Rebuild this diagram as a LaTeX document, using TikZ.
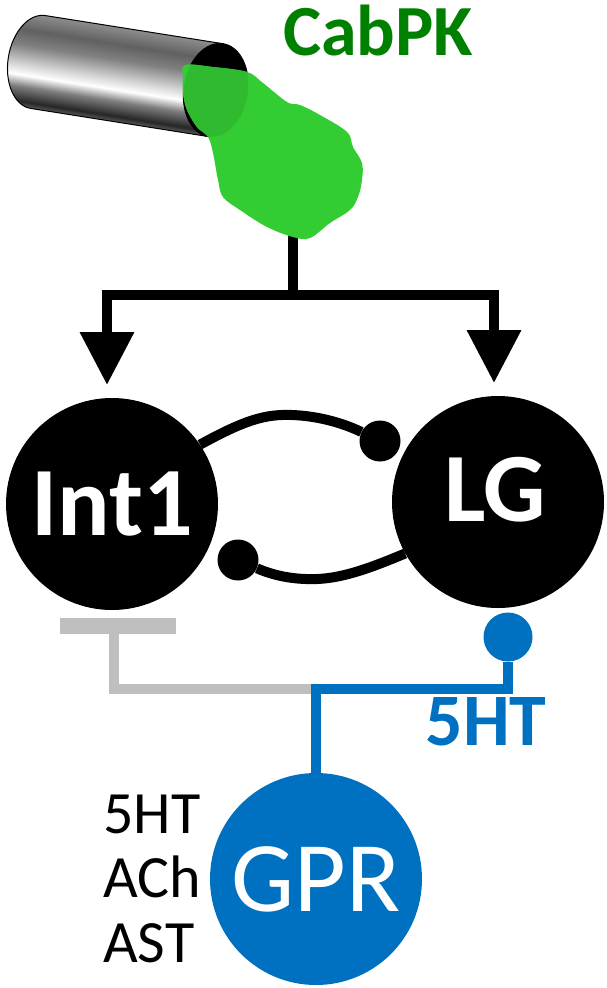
\documentclass[tikz,border=0pt]{standalone}
\usepackage{fontspec}
\setmainfont{Carlito}
\usepackage{tikz}
\usetikzlibrary{arrows.meta}

\definecolor{cabgreen}{RGB}{0,128,0}
\definecolor{blobgreen}{RGB}{51,204,51}
\definecolor{blobdark}{RGB}{47,186,47}
\definecolor{gprblue}{RGB}{0,112,192}
\definecolor{inhibgray}{RGB}{191,191,191}

% metal look of the tube, bottom edge at 25bp, top edge at 75bp
\pgfdeclareverticalshading{tubemetal}{100bp}{color(0bp)=(black!65); color(25bp)=(black!65);
  color(28bp)=(black!85); color(36bp)=(black!50); color(42bp)=(white); color(47bp)=(black!15);
  color(58bp)=(black!50); color(66bp)=(black!62); color(75bp)=(black!45); color(100bp)=(black!45)}

\begin{document}
\begin{tikzpicture}[x=1pt, y=-1pt,
    cell/.style={circle, fill=black, inner sep=0pt, minimum size=212pt, text=white,
      font=\bfseries\fontsize{98}{98}\selectfont},
    syn/.style={circle, fill=black, inner sep=0pt, minimum size=41pt},
    synline/.style={line width=10pt},
    feed/.style={line width=10pt, -{Triangle[width=52pt, length=53pt]}},
    inhib/.style={draw=inhibgray, line width=10pt},
    mod/.style={draw=gprblue, line width=10pt}]
    \useasboundingbox (0,0) rectangle (606,988);

    % tube
    \begin{scope}[transform canvas={shift={(38,62)}, rotate=-9}]
        \shade[shading=tubemetal, draw=black, line width=1pt] (0,-47) -- (180,-47) -- (180,47) -- (0,47)
            arc[start angle=90, end angle=270, x radius=30, y radius=47] -- cycle;
        \filldraw[line width=1pt] (180,0) ellipse[x radius=32, y radius=47]; % opening
    \end{scope}

    % CabPK into both cells
    \coordinate (blobfoot) at (293,232);
    \coordinate (split) at (293,295);
    \coordinate (tipL) at (107,385);
    \coordinate (tipR) at (494,383);
    \draw[feed] (blobfoot) -- (split) -| (tipL);
    \draw[feed] (blobfoot) -- (split) -| (tipR);

    \fill[blobgreen] plot[smooth cycle, tension=0.6] coordinates {(185,65) (213,67) (247,72) (263,83)
        (287,102) (300,105) (320,115) (347,132) (353,147) (362,163) (362,180) (358,197) (350,210)
        (330,223) (310,238) (293,237) (267,227) (240,210) (223,197) (218,180) (213,153) (208,137)
        (197,127) (187,110) (183,93) (183,77)};
    \begin{scope}
        \clip[shift={(38,62)}, rotate=-9] (180,0) ellipse[x radius=32, y radius=47];
        \fill[blobdark] plot[smooth cycle, tension=0.6] coordinates {(185,65) (213,67) (247,72) (263,83)
            (287,102) (300,105) (320,115) (347,132) (353,147) (362,163) (362,180) (358,197) (350,210)
            (330,223) (310,238) (293,237) (267,227) (240,210) (223,197) (218,180) (213,153) (208,137)
            (197,127) (187,110) (183,93) (183,77)};
    \end{scope}
    \node[anchor=base, text=cabgreen, font=\bfseries\fontsize{72}{72}\selectfont] (cabpk) at (378,55) {CabPK};

    % the two cells and their synapses
    \node[cell] (int1) at (112,504) {Int1};
    \node[cell] (lg) at (498,502) {};
    \node[text=white, font=\bfseries\fontsize{98}{98}\selectfont] (lgname) at (495,490) {LG};

    \node[syn] (synLG) at (380,441) {};
    \node[syn] (synInt) at (238,560) {};
    \draw[synline] (int1.34) .. controls (245,420) and (265,414) .. (292,415)
        .. controls (320,416) and (345,424) .. (synLG);
    \draw[synline] (synInt) .. controls (270,574) and (290,580) .. (317,579)
        .. controls (345,578) and (375,566) .. (lg.209);

    % modulation from GPR
    \node[circle, fill=gprblue, inner sep=0pt, minimum size=212pt, text=white,
        font=\fontsize{100}{100}\selectfont] (gpr) at (316,879) {GPR};
    \node[circle, fill=gprblue, inner sep=0pt, minimum size=49pt] (bHT) at (508,637) {};
    \coordinate (junc) at (316,689);
    \coordinate (barL) at (60,626);
    \coordinate (barR) at (176,626);
    \coordinate (tbar) at (114,626);
    \draw[inhib, line width=16pt] (barL) -- (barR);
    \draw[inhib] (tbar) -- (tbar |- junc) -- (junc);
    \draw[mod] (gpr.north) -- (junc) -| (bHT.south);

    \node[anchor=base, text=gprblue, font=\bfseries\fontsize{74}{74}\selectfont] (lbl5HT) at (486,745) {5HT};
    \foreach \lig/\y in {5HT/833, ACh/897, AST/962}
        \node[anchor=base west, inner sep=0pt, font=\fontsize{60}{60}\selectfont] (lig\lig) at (103,\y) {\lig};
\end{tikzpicture}
\end{document}
